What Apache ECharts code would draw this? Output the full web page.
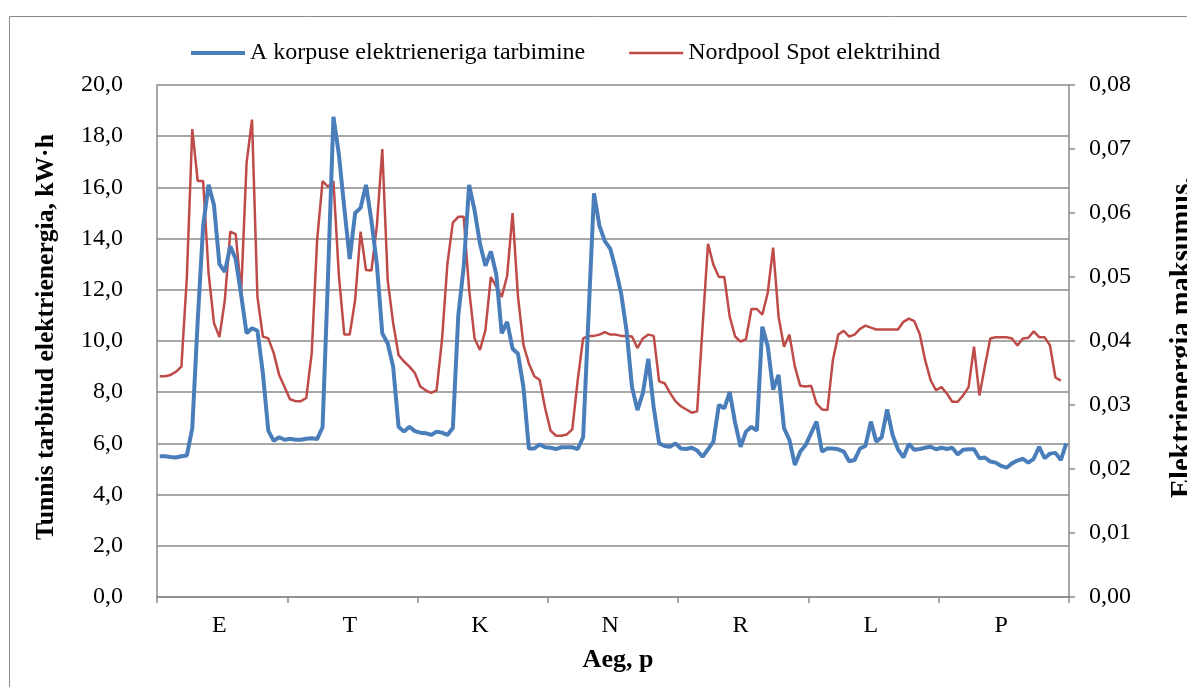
<!DOCTYPE html>
<html>
<head>
<meta charset="utf-8">
<script src="https://cdn.jsdelivr.net/npm/echarts@6/dist/echarts.min.js"></script>
<style>
  html, body { margin: 0; padding: 0; background: #fff; }
  #chart { width: 1187px; height: 687px; }
</style>
</head>
<body>
<div id="chart"></div>
<script>
// nädalapäevad (E..P), igaühes 24 tundi
const DAYS = ['E', 'T', 'K', 'N', 'R', 'L', 'P'];
const HOURS_PER_DAY = 24;

// A korpuse elektrienergia tarbimine, kW·h (168 tundi)
const consumption = [
  5.5, 5.5, 5.47, 5.45, 5.5, 5.53, 6.6, 10.8, 14.5, 16.1, 15.3, 13.0, 12.7, 13.7, 13.2, 11.8, 10.3, 10.5, 10.4, 8.75, 6.5, 6.1, 6.24, 6.14,
  6.18, 6.14, 6.14, 6.18, 6.2, 6.17, 6.63, 12.5, 18.76, 17.3, 15.2, 13.2, 15.0, 15.2, 16.1, 14.7, 13.0, 10.3, 9.9, 9.0, 6.65, 6.46, 6.65, 6.48,
  6.42, 6.4, 6.33, 6.46, 6.42, 6.33, 6.6, 11.0, 12.9, 16.1, 15.1, 13.8, 12.94, 13.5, 12.6, 10.3, 10.75, 9.7, 9.5, 8.2, 5.8, 5.8, 5.96, 5.85,
  5.83, 5.78, 5.85, 5.85, 5.85, 5.78, 6.24, 11.0, 15.77, 14.5, 13.9, 13.6, 12.8, 11.86, 10.4, 8.2, 7.3, 7.96, 9.3, 7.4, 6.0, 5.9, 5.87, 6.0,
  5.8, 5.78, 5.83, 5.72, 5.48, 5.77, 6.07, 7.5, 7.37, 8.0, 6.8, 5.87, 6.46, 6.65, 6.5, 10.56, 9.8, 8.1, 8.67, 6.6, 6.14, 5.16, 5.68, 5.94,
  6.4, 6.85, 5.68, 5.8, 5.8, 5.77, 5.68, 5.3, 5.35, 5.8, 5.9, 6.85, 6.07, 6.24, 7.33, 6.33, 5.77, 5.45, 5.98, 5.75, 5.78, 5.83, 5.87, 5.77,
  5.83, 5.78, 5.83, 5.57, 5.75, 5.77, 5.77, 5.42, 5.45, 5.29, 5.25, 5.12, 5.05, 5.22, 5.33, 5.4, 5.25, 5.4, 5.87, 5.42, 5.6, 5.63, 5.35, 6.0
];

// Nordpool Spot elektrihind (viimane tund puudub)
const spotPrice = [
  0.0345, 0.0345, 0.0347, 0.0352, 0.036, 0.05, 0.0731, 0.065, 0.065, 0.0506, 0.0428, 0.0406, 0.0464, 0.0571, 0.0567, 0.0475, 0.0678, 0.0746, 0.0469, 0.0407, 0.0404, 0.0381, 0.0347, 0.0328,
  0.0309, 0.0306, 0.0306, 0.0311, 0.0381, 0.0558, 0.065, 0.0641, 0.065, 0.0503, 0.041, 0.041, 0.0464, 0.0571, 0.0511, 0.051, 0.058, 0.07, 0.0495, 0.0428, 0.0378, 0.0368, 0.036, 0.035,
  0.0329, 0.0323, 0.0319, 0.0323, 0.0402, 0.0521, 0.0585, 0.0594, 0.0594, 0.048, 0.0404, 0.0386, 0.0417, 0.05, 0.0485, 0.0469, 0.0502, 0.06, 0.0469, 0.0394, 0.0365, 0.0345, 0.0339, 0.0295,
  0.026, 0.0252, 0.0252, 0.0254, 0.0262, 0.0339, 0.0404, 0.0408, 0.0408, 0.041, 0.0414, 0.041, 0.041, 0.0408, 0.0408, 0.0407, 0.0389, 0.0404, 0.041, 0.0408, 0.0337, 0.0334, 0.0319, 0.0306,
  0.0298, 0.0293, 0.0288, 0.029, 0.0422, 0.0552, 0.0519, 0.05, 0.05, 0.0438, 0.0407, 0.0399, 0.0403, 0.045, 0.045, 0.0441, 0.0475, 0.0546, 0.0438, 0.0391, 0.041, 0.036, 0.033, 0.0329,
  0.033, 0.0302, 0.0293, 0.0292, 0.037, 0.041, 0.0416, 0.0407, 0.041, 0.0419, 0.0424, 0.0421, 0.0418, 0.0418, 0.0418, 0.0418, 0.0418, 0.043, 0.0435, 0.0431, 0.0411, 0.037, 0.0339, 0.0323,
  0.0328, 0.0318, 0.0305, 0.0305, 0.0315, 0.0328, 0.0391, 0.0315, 0.036, 0.0404, 0.0406, 0.0406, 0.0406, 0.0404, 0.0393, 0.0404, 0.0405, 0.0415, 0.0406, 0.0406, 0.0393, 0.0343, 0.0338
];

const SERIES_NAMES = ['A korpuse elektrieneriga tarbimine', 'Nordpool Spot elektrihind'];

// kategooriad: "E 0", "E 1", ... "P 23"
const hours = [];
DAYS.forEach(day => {
  for (let h = 0; h < HOURS_PER_DAY; h++) hours.push(day + ' ' + h);
});

const FONT = '"Liberation Serif", "Times New Roman", serif';
const GRAY = '#8a8a8a';
const BLUE = '#4a7ebb';
const RED = '#be4b48';

const chart = echarts.init(document.getElementById('chart'));

chart.setOption({
  animation: false,
  backgroundColor: '#fff',
  textStyle: { fontFamily: FONT, color: '#000' },
  graphic: [
    {
      type: 'rect',
      z: -1,
      shape: { x: 9.5, y: 16.5, width: 1300, height: 800 },
      style: { fill: 'none', stroke: GRAY, lineWidth: 1 }
    },
    {
      // parempoolse telje pealkiri, teine rida jääb pildist välja
      type: 'text',
      x: 1166,
      y: 498,
      rotation: Math.PI / 2,
      style: {
        text: 'Elektrienergia maksumus,\n€/kWh',
        font: 'bold 28.5px ' + FONT,
        fill: '#000',
        align: 'left',
        verticalAlign: 'top',
        lineHeight: 33
      }
    }
  ],
  legend: {
    left: 186,
    top: 36,
    itemWidth: 54,
    itemHeight: 14,
    itemGap: 44,
    textStyle: { fontFamily: FONT, fontSize: 24, color: '#000' },
    data: [
      { name: SERIES_NAMES[0], icon: 'path://M0,6 L54,6 L54,10 L0,10 Z', itemStyle: { color: BLUE } },
      { name: SERIES_NAMES[1], icon: 'path://M0,7 L54,7 L54,9.5 L0,9.5 Z', itemStyle: { color: RED } }
    ]
  },
  grid: {
    left: 157,
    right: 118,
    top: 85,
    bottom: 90
  },
  xAxis: {
    type: 'category',
    data: hours,
    boundaryGap: true,
    name: 'Aeg, p',
    nameLocation: 'middle',
    nameGap: 50,
    nameTextStyle: { fontFamily: FONT, fontSize: 26, fontWeight: 'bold', color: '#000', padding: [0, 0, 0, 10] },
    axisLine: { lineStyle: { color: GRAY, width: 1.5 } },
    axisTick: {
      show: true,
      length: 6,
      interval: index => index % HOURS_PER_DAY === 0,
      lineStyle: { color: GRAY, width: 1.5 }
    },
    axisLabel: {
      interval: index => index % HOURS_PER_DAY === 11,
      formatter: v => v.split(' ')[0],
      margin: 17,
      fontFamily: FONT,
      fontSize: 24,
      color: '#000'
    },
    splitLine: { show: false }
  },
  yAxis: [
    {
      type: 'value',
      min: 0,
      max: 20,
      interval: 2,
      name: 'Tunnis tarbitud elektrienergia, kW·h',
      nameLocation: 'middle',
      nameGap: 98,
      nameRotate: 90,
      nameTextStyle: { fontFamily: FONT, fontSize: 25.6, fontWeight: 'bold', color: '#000', padding: [0, 0, 0, 8] },
      axisLine: { show: true, lineStyle: { color: GRAY, width: 1.5 } },
      axisTick: { show: false },
      axisLabel: {
        margin: 34,
        fontFamily: FONT,
        fontSize: 24,
        color: '#000',
        formatter: v => v.toFixed(1).replace('.', ',')
      },
      splitLine: { show: true, lineStyle: { color: GRAY, width: 1.5 } }
    },
    {
      type: 'value',
      position: 'right',
      min: 0,
      max: 0.08,
      interval: 0.01,
      axisLine: { show: true, lineStyle: { color: GRAY, width: 1.5 } },
      axisTick: { show: true, length: 6, lineStyle: { color: GRAY, width: 1.5 } },
      axisLabel: {
        margin: 20,
        fontFamily: FONT,
        fontSize: 24,
        color: '#000',
        formatter: v => v.toFixed(2).replace('.', ',')
      },
      splitLine: { show: false }
    }
  ],
  series: [
    {
      name: SERIES_NAMES[0],
      type: 'line',
      yAxisIndex: 0,
      data: consumption,
      symbol: 'none',
      z: 3,
      lineStyle: { color: BLUE, width: 4 },
      itemStyle: { color: BLUE }
    },
    {
      name: SERIES_NAMES[1],
      type: 'line',
      yAxisIndex: 1,
      data: spotPrice,
      symbol: 'none',
      z: 2,
      lineStyle: { color: RED, width: 2.5 },
      itemStyle: { color: RED }
    }
  ]
});
</script>
</body>
</html>
